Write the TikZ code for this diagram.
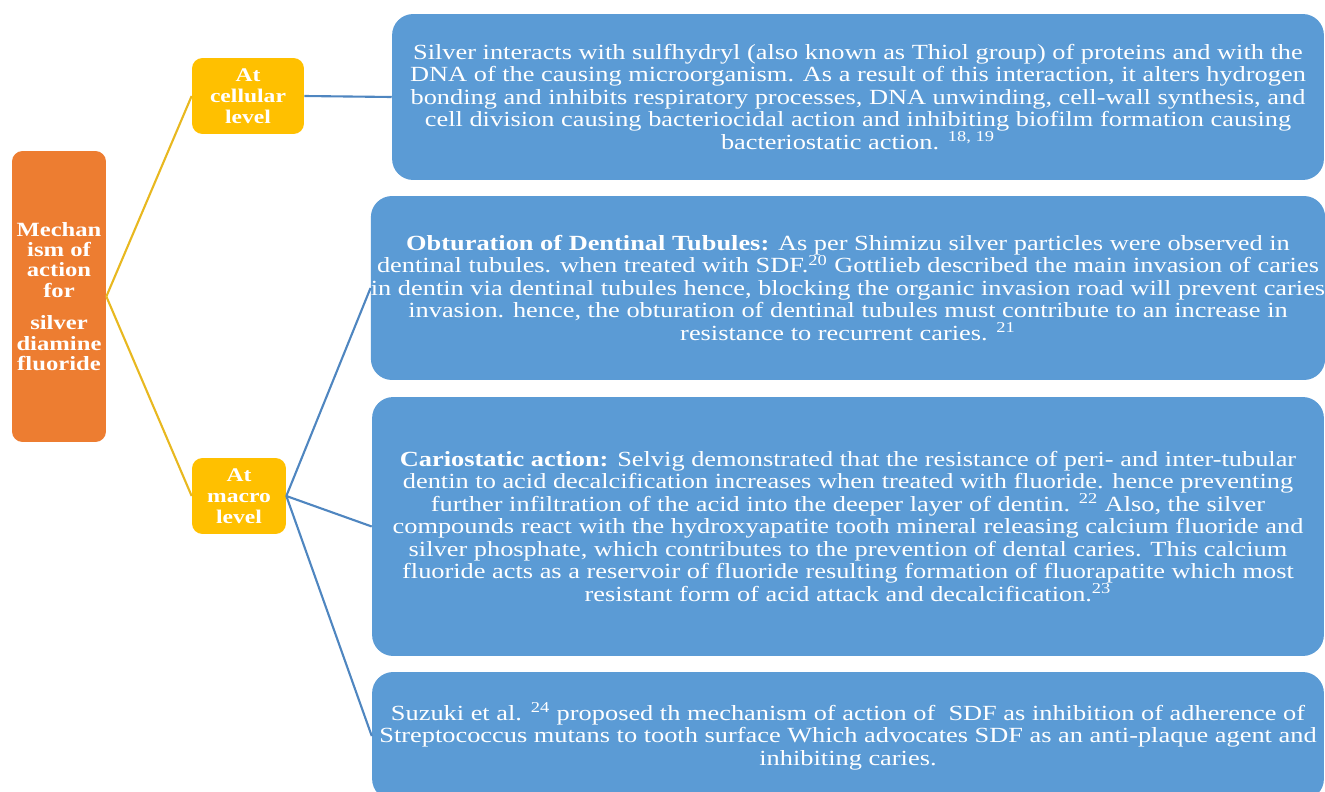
\documentclass[tikz,border=0pt]{standalone}
\usepackage{fontspec}
\setmainfont{Liberation Serif}
\newfontfamily\widefont{Liberation Serif}[FakeStretch=1.22]
\usepackage{xcolor}
\definecolor{sdfOrange}{HTML}{ED7D31}
\definecolor{sdfGold}{HTML}{FFC000}
\definecolor{sdfBlue}{HTML}{5B9BD5}
\definecolor{sdfLineBlue}{HTML}{4F86C0}
\definecolor{sdfLineGold}{HTML}{E8B820}

\begin{document}
\begin{tikzpicture}[x=0.02cm,y=-0.02cm]
		\tikzset{rootbox/.style = {fill=sdfOrange, rounded corners=6pt, text=white, align=center,
				font=\widefont\bfseries\fontsize{11.5}{11.5}\selectfont, inner sep=0pt}}
		\tikzset{levelbox/.style = {fill=sdfGold, rounded corners=6pt, text=white, align=center,
				font=\widefont\bfseries\fontsize{11}{12}\selectfont, inner sep=0pt}}
		\tikzset{infobox/.style = {fill=sdfBlue, rounded corners=12pt, text=white, align=center,
				font=\widefont\fontsize{12.3}{12.8}\selectfont, inner sep=0pt}}
		\tikzset{goldedge/.style = {draw=sdfLineGold, line width=1.2pt}}
		\tikzset{blueedge/.style = {draw=sdfLineBlue, line width=1.2pt}}

		\useasboundingbox (0,0) rectangle (1325,791);
		\clip (0,0) rectangle (1325,791);

		\node[rootbox, minimum width=1.88cm, minimum height=5.82cm] (mech) at (59,296.5)
			{Mechan\\ism of\\action\\for\\[0.25cm]silver\\diamine\\fluoride};

		\node[levelbox, minimum width=2.24cm, minimum height=1.52cm] (cell) at (248,96)
			{At\\cellular\\level};
		\node[levelbox, minimum width=1.88cm, minimum height=1.52cm] (macro) at (239,496)
			{At\\macro\\level};

		\node[infobox, minimum width=18.64cm, minimum height=3.32cm] (silver) at (858,97)
			{Silver interacts with sulfhydryl (also known as Thiol group) of proteins and with the\\
			DNA of the causing microorganism. As a result of this interaction, it alters hydrogen\\
			bonding and inhibits respiratory processes, DNA unwinding, cell-wall synthesis, and\\
			cell division causing bacteriocidal action and inhibiting biofilm formation causing\\
			bacteriostatic action. \textsuperscript{18, 19}};
		\node[infobox, minimum width=19.04cm, minimum height=3.68cm] (tubules) at (848,288)
			{\textbf{Obturation of Dentinal Tubules:} As per Shimizu silver particles were observed in\\
			dentinal tubules. when treated with SDF.\textsuperscript{20} Gottlieb described the main invasion of caries\\
			in dentin via dentinal tubules hence, blocking the organic invasion road will prevent caries\\
			invasion. hence, the obturation of dentinal tubules must contribute to an increase in\\
			resistance to recurrent caries. \textsuperscript{21}};
		\node[infobox, minimum width=19.04cm, minimum height=5.18cm] (cario) at (848,526.5)
			{\textbf{Cariostatic action:} Selvig demonstrated that the resistance of peri- and inter-tubular\\
			dentin to acid decalcification increases when treated with fluoride. hence preventing\\
			further infiltration of the acid into the deeper layer of dentin. \textsuperscript{22} Also, the silver\\
			compounds react with the hydroxyapatite tooth mineral releasing calcium fluoride and\\
			silver phosphate, which contributes to the prevention of dental caries. This calcium\\
			fluoride acts as a reservoir of fluoride resulting formation of fluorapatite which most\\
			resistant form of acid attack and decalcification.\textsuperscript{23}};
		\node[infobox, minimum width=19.04cm, minimum height=2.56cm] (suzuki) at (848,736)
			{Suzuki et al. \textsuperscript{24} proposed th mechanism of action of\ \ SDF as inhibition of adherence of\\
			Streptococcus mutans to tooth surface Which advocates SDF as an anti-plaque agent and\\
			inhibiting caries.};

		\draw[goldedge] (mech.east) to (cell.west);
		\draw[goldedge] (mech.east) to (macro.west);
		\draw[blueedge] (cell.east) to (silver.west);
		\draw[blueedge] (macro.east) to (tubules.west);
		\draw[blueedge] (macro.east) to (cario.west);
		\draw[blueedge] (macro.east) to (suzuki.west);
	\end{tikzpicture}
\end{document}
